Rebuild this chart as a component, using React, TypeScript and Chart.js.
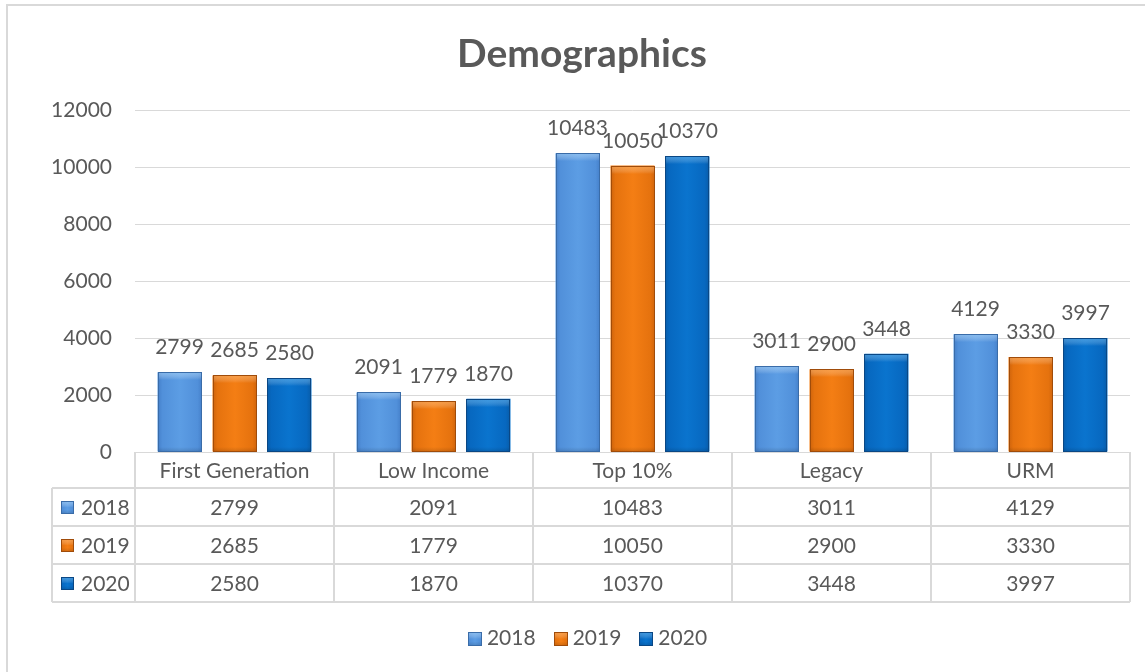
import React, { useEffect, useRef } from "react";
import { Chart, registerables } from "chart.js";

Chart.register(...registerables);

const categories = ["First Generation", "Low Income", "Top 10%", "Legacy", "URM"];
const seriesNames = ["2018", "2019", "2020"];
const values2018 = [2799, 2091, 10483, 3011, 4129];
const values2019 = [2685, 1779, 10050, 2900, 3330];
const values2020 = [2580, 1870, 10370, 3448, 3997];
const yMin = 0;
const yMax = 12000;
const yStep = 2000;
const titleText = "Demographics";

const FONT = "Lato, 'Open Sans', sans-serif";
const TEXT = "#595959";
const LINE = "#D9D9D9";
const FS = 21;

// [edge, mid, center, highlight, border]
const palettes = [
  ["#4580CA", "#5190DA", "#5C9DE4", "rgba(170,215,250,0.55)", "#3A6CA8"],
  ["#CF640C", "#E5720E", "#F47E14", "rgba(255,190,120,0.5)", "#A04C0A"],
  ["#085DAA", "#0768C0", "#0A74CE", "rgba(110,190,245,0.5)", "#0A4784"],
];

function fillBevel(ctx: CanvasRenderingContext2D, left: number, top: number, w: number, h: number, p: string[]) {
  if (h <= 0) return;
  const g = ctx.createLinearGradient(left, 0, left + w, 0);
  g.addColorStop(0, p[0]);
  g.addColorStop(0.1, p[1]);
  g.addColorStop(0.5, p[2]);
  g.addColorStop(0.9, p[1]);
  g.addColorStop(1, p[0]);
  ctx.fillStyle = g;
  ctx.fillRect(left, top, w, h);
  const hh = Math.min(8, h / 2);
  const g2 = ctx.createLinearGradient(0, top, 0, top + hh);
  g2.addColorStop(0, p[3]);
  g2.addColorStop(1, "rgba(255,255,255,0)");
  ctx.fillStyle = g2;
  ctx.fillRect(left + 1, top + 1, w - 2, hh);
  const hb = Math.min(5, h / 3);
  const g3 = ctx.createLinearGradient(0, top + h - hb, 0, top + h);
  g3.addColorStop(0, "rgba(0,0,0,0)");
  g3.addColorStop(1, "rgba(0,0,0,0.15)");
  ctx.fillStyle = g3;
  ctx.fillRect(left, top + h - hb, w, hb);
  ctx.strokeStyle = p[4];
  ctx.lineWidth = 1;
  ctx.strokeRect(left + 0.5, top + 0.5, w - 1, h - 1);
}

const barsPlugin = {
  id: "bevelBars",
  afterDatasetsDraw(chart: any) {
    const ctx = chart.ctx as CanvasRenderingContext2D;
    ctx.save();
    chart.data.datasets.forEach((ds: any, i: number) => {
      const meta = chart.getDatasetMeta(i);
      meta.data.forEach((el: any, j: number) => {
        const { x, y, base, width } = el.getProps(["x", "y", "base", "width"], true);
        const left = Math.round(x - width / 2);
        const top = Math.round(y);
        fillBevel(ctx, left, top, Math.round(width), Math.round(base) - top, palettes[i]);
        ctx.fillStyle = TEXT;
        ctx.font = `${FS}px ${FONT}`;
        ctx.textAlign = "center";
        ctx.textBaseline = "alphabetic";
        ctx.fillText(String(ds.data[j]), x, y - 18);
      });
    });
    ctx.restore();
  },
};

const decorPlugin = {
  id: "decor",
  afterDraw(chart: any) {
    const ctx = chart.ctx as CanvasRenderingContext2D;
    const area = chart.chartArea;
    const W = chart.width;
    const H = chart.height;
    ctx.save();
    // outer frame
    ctx.strokeStyle = LINE;
    ctx.lineWidth = 2;
    ctx.beginPath();
    ctx.moveTo(W + 5, 5);
    ctx.lineTo(7, 5);
    ctx.lineTo(7, H + 5);
    ctx.stroke();

    // title
    ctx.fillStyle = TEXT;
    ctx.font = `bold 39px ${FONT}`;
    ctx.textAlign = "center";
    ctx.textBaseline = "alphabetic";
    ctx.fillText(titleText, 582, 67);

    // data table
    const n = categories.length;
    const colW = (area.right - area.left) / n;
    const headTop = area.bottom;
    const rowTops = [488, 526, 564, 602];
    const tblLeft = 52;
    ctx.strokeStyle = LINE;
    ctx.lineWidth = 2;
    ctx.beginPath();
    for (let i = 0; i <= n; i++) {
      const xx = Math.round(area.left + i * colW);
      ctx.moveTo(xx, headTop);
      ctx.lineTo(xx, rowTops[3]);
    }
    ctx.moveTo(tblLeft, rowTops[0]);
    ctx.lineTo(tblLeft, rowTops[3]);
    rowTops.forEach((ry) => {
      ctx.moveTo(tblLeft, ry);
      ctx.lineTo(area.right, ry);
    });
    ctx.stroke();

    ctx.fillStyle = TEXT;
    ctx.font = `${FS}px ${FONT}`;
    ctx.textAlign = "center";
    ctx.textBaseline = "middle";
    categories.forEach((c, i) => {
      ctx.fillText(c, area.left + (i + 0.5) * colW, (headTop + rowTops[0]) / 2 + 1);
    });
    chart.data.datasets.forEach((ds: any, r: number) => {
      const cy = (rowTops[r] + rowTops[r + 1]) / 2 + 1;
      ds.data.forEach((v: number, i: number) => {
        ctx.fillStyle = TEXT;
        ctx.textAlign = "center";
        ctx.fillText(String(v), area.left + (i + 0.5) * colW, cy);
      });
      fillBevel(ctx, 61, Math.round(cy - 7), 13, 13, palettes[r]);
      ctx.fillStyle = TEXT;
      ctx.textAlign = "left";
      ctx.fillText(ds.label, 81, cy);
    });

    // legend
    const box = 14;
    const gapText = 5;
    const gapItem = 18;
    const widths = chart.data.datasets.map((ds: any) => box + gapText + ctx.measureText(ds.label).width);
    const total = widths.reduce((a: number, b: number) => a + b, 0) + gapItem * (widths.length - 1);
    let lx = 587.5 - total / 2;
    const ly = 638.5;
    chart.data.datasets.forEach((ds: any, i: number) => {
      fillBevel(ctx, Math.round(lx), Math.round(ly - box / 2), box, box, palettes[i]);
      ctx.fillStyle = TEXT;
      ctx.textAlign = "left";
      ctx.textBaseline = "middle";
      ctx.fillText(ds.label, lx + box + gapText, ly);
      lx += widths[i] + gapItem;
    });
    ctx.restore();
  },
};

export default function App() {
  const ref = useRef<HTMLCanvasElement | null>(null);
  useEffect(() => {
    if (!ref.current) return;
    const chart = new Chart(ref.current, {
      type: "bar",
      data: {
        labels: categories,
        datasets: [
          { label: seriesNames[0], data: values2018, backgroundColor: palettes[0][2] },
          { label: seriesNames[1], data: values2019, backgroundColor: palettes[1][2] },
          { label: seriesNames[2], data: values2020, backgroundColor: palettes[2][2] },
        ],
      },
      options: {
        animation: false,
        responsive: false,
        devicePixelRatio: 1,
        layout: { padding: { left: 0, right: 15, top: 110, bottom: 220 } },
        datasets: { bar: { categoryPercentage: 0.829, barPercentage: 0.8 } },
        plugins: {
          legend: { display: false },
          title: { display: false },
          tooltip: { enabled: false },
        },
        scales: {
          x: { display: false },
          y: {
            min: yMin,
            max: yMax,
            afterFit: (s: any) => {
              s.width = 135;
            },
            ticks: {
              stepSize: yStep,
              color: TEXT,
              padding: 23,
              font: { family: FONT, size: FS },
              callback: (v: any) => String(v),
            },
            grid: { color: LINE, lineWidth: 1, drawTicks: false },
            border: { display: false },
          },
        },
      },
      plugins: [barsPlugin, decorPlugin],
    });
    return () => chart.destroy();
  }, []);
  return (
    <div style={{ position: "absolute", left: 0, top: 0, width: 1145, height: 672, background: "#fff" }}>
      <canvas ref={ref} width={1145} height={672} />
    </div>
  );
}
